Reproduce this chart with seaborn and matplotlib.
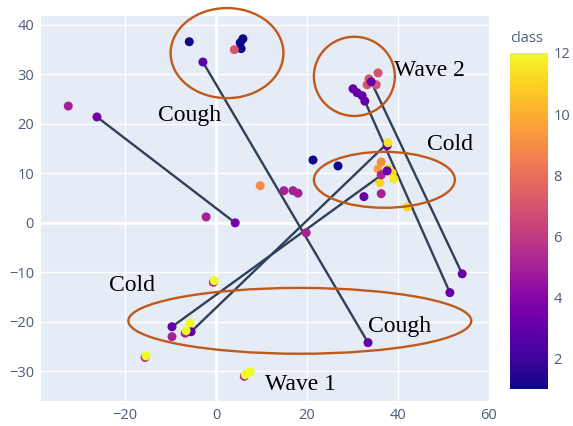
import matplotlib
matplotlib.use("Agg")
import matplotlib.pyplot as plt
from matplotlib.patches import Ellipse
import seaborn as sns
import pandas as pd

# embedding points (x, y) and their class
xs = [-5.9, 5.9, 5.3, 5.5, 21.3, 26.8,
      -2.9, 4.0,
      35.6, 33.6, 35.2, 33.2, 34.1, 30.1, 31.0, 32.1, 32.7,
      -32.5, -26.2, 4.2, -2.2,
      9.7, 14.9, 16.9, 18.0, 19.8,
      36.3, 35.6, 37.8, 38.7, 39.1, 36.0, 36.3, 37.6, 32.5, 36.3, 42.0, 37.6, 37.8,
      33.4, 54.1, 51.4,
      -9.7, -6.8, -5.5, -5.7, -6.6, -9.7,
      -0.6, -0.4, -15.6, -15.4, 6.2, 6.4, 7.5, 6.8]
ys = [36.6, 37.2, 36.4, 35.2, 12.7, 11.5,
      32.5, 35.0,
      30.3, 29.1, 27.9, 27.9, 28.5, 27.1, 26.3, 25.7, 24.6,
      23.6, 21.4, 0.0, 1.2,
      7.5, 6.5, 6.5, 6.0, -2.0,
      12.3, 10.9, 10.9, 10.1, 8.9, 8.1, 9.7, 10.5, 5.3, 5.9, 3.2, 15.6, 16.2,
      -24.2, -10.3, -14.1,
      -23.0, -22.3, -22.0, -20.2, -21.8, -21.0,
      -12.0, -11.7, -27.2, -26.9, -31.0, -30.7, -30.1, -30.4]
cls = [1, 1, 1, 1, 1, 1,
       2.8, 7,
       7, 7, 7, 7, 3, 3, 3, 3, 3,
       5, 3.5, 3.5, 5,
       9, 5, 5, 5, 5,
       9, 9.5, 11, 11, 11.5, 11, 5, 3, 3, 5, 11, 3, 11.5,
       3, 3, 3,
       5, 5, 3, 12, 12, 3,
       5, 12, 5, 12, 5, 12, 12, 12]

# line segments between pairs of points (indices into the arrays above)
link_from = [18, 6, 12, 16, 47, 44]
link_to = [19, 39, 40, 41, 33, 38]

# annotations: text labels and ellipses (center x, center y, width, height)
labels = ["Cough", "Wave 2", "Cold", "Cold", "Cough", "Wave 1"]
label_x = [-5.9, 47.0, 51.4, -18.5, 40.4, 18.5]
label_y = [21.6, 30.7, 15.8, -12.7, -21.0, -32.7]
ell_cx = [2.4, 30.4, 37.0, 18.4]
ell_cy = [34.3, 29.6, 8.7, -19.8]
ell_w = [24.8, 17.8, 31.0, 75.4]
ell_h = [18.2, 16.0, 11.3, 13.3]

df = pd.DataFrame({"x": xs, "y": ys, "class": cls})

sns.set_style("white")
plt.rcParams["font.family"] = ["Open Sans", "DejaVu Sans"]
tick_color = "#4c5c78"

fig = plt.figure(figsize=(5.73, 4.26), dpi=100)
ax = fig.add_axes([41 / 573, 25 / 426, 448 / 573, 385 / 426])
ax.set_facecolor("#E5ECF6")
for s in ax.spines.values():
    s.set_visible(False)

for a, b in zip(link_from, link_to):
    ax.plot([xs[a], xs[b]], [ys[a], ys[b]], color="#2F4058", lw=1.7, zorder=2)

sns.scatterplot(data=df, x="x", y="y", hue="class", palette="plasma",
                hue_norm=(1, 12), s=42, linewidth=0, legend=False, ax=ax, zorder=3)

ax.set_xlim(-38.5, 60)
ax.set_ylim(-36, 41.8)
ax.set_xticks([-20, 0, 20, 40, 60])
ax.set_yticks([-30, -20, -10, 0, 10, 20, 30, 40])
ax.grid(True, color="white", lw=1)
ax.set_axisbelow(True)
ax.axhline(0, color="white", lw=2, zorder=0.5)
ax.axvline(0, color="white", lw=2, zorder=0.5)
ax.tick_params(length=0, labelsize=10.5, colors=tick_color, pad=5)
ax.set_xlabel("")
ax.set_ylabel("")

for cx, cy, w, h in zip(ell_cx, ell_cy, ell_w, ell_h):
    ax.add_patch(Ellipse((cx, cy), w, h, fill=False, edgecolor="#BF5A1C",
                         lw=1.7, zorder=4, clip_on=False))

for t, tx, ty in zip(labels, label_x, label_y):
    ax.text(tx, ty, t, family="Liberation Serif", fontsize=17, color="black",
            ha="center", va="center", zorder=5, clip_on=False)

# colorbar
cax = fig.add_axes([510 / 573, 37 / 426, 38 / 573, 336 / 426])
sm = plt.cm.ScalarMappable(cmap="plasma", norm=plt.Normalize(1, 12))
cb = fig.colorbar(sm, cax=cax)
cb.outline.set_visible(False)
cb.set_ticks([2, 4, 6, 8, 10, 12])
cax.tick_params(length=0, labelsize=10.5, colors=tick_color, pad=4)
fig.text(510 / 573, 1 - 38 / 426, "class", ha="left", va="center",
         fontsize=10.5, color=tick_color)

fig.savefig("out.png", dpi=100)
